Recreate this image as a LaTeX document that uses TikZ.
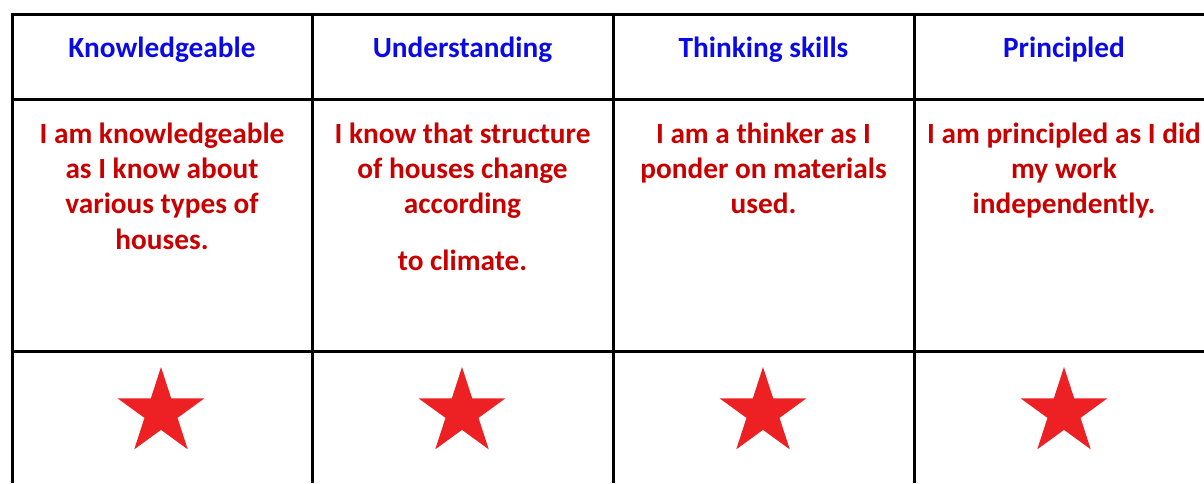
\documentclass[tikz,border=0pt]{standalone}
\usepackage{fontspec}
\setmainfont{Carlito}
\usetikzlibrary{shapes.geometric}
\definecolor{hdblue}{RGB}{10,10,230}
\definecolor{bodyred}{RGB}{200,0,0}
\definecolor{starred}{RGB}{237,32,36}
\begin{document}
\begin{tikzpicture}[x=1pt,y=-1pt,
  grid/.style={line width=3pt, black},
  head/.style={font=\fontsize{29.3}{35}\selectfont\bfseries, text=hdblue, anchor=base, inner sep=0pt},
  body/.style={font=\fontsize{29.3}{35}\selectfont\bfseries, text=bodyred, anchor=base, inner sep=0pt},
  mystar/.style={star, star points=5, star point ratio=2.618, minimum size=91pt, fill=starred, draw=none, inner sep=0pt}]
\useasboundingbox (0,0) rectangle (1204,483);
% grid
\draw[grid] (10.5,14) -- (1204,14);
\draw[grid] (10.5,99) -- (1204,99);
\draw[grid] (10.5,351) -- (1204,351);
\foreach \x in {12,312.5,613.5,914}{\draw[grid] (\x,12.5) -- (\x,483);}
% headers
\node[head] (h1) at (162,57) {Knowledgeable};
\node[head] (h2) at (462.5,57) {Understanding};
\node[head] (h3) at (763.5,57) {Thinking skills};
\node[head] (h4) at (1064,57) {Principled};
% column 1
\node[body] (a1) at (162,143) {I am knowledgeable};
\node[body] (a2) at (162,178) {as I know about};
\node[body] (a3) at (162,213.5) {various types of};
\node[body] (a4) at (162,249) {houses.};
% column 2
\node[body] (b1) at (462.5,143) {I know that structure};
\node[body] (b2) at (462.5,178) {of houses change};
\node[body] (b3) at (462.5,213.5) {according};
\node[body] (b4) at (462.5,270) {to climate.};
% column 3
\node[body] (c1) at (763.5,143) {I am a thinker as I};
\node[body] (c2) at (763.5,178) {ponder on materials};
\node[body] (c3) at (763.5,213.5) {used.};
% column 4
\node[body] (d1) at (1064,143) {I am principled as I did};
\node[body] (d2) at (1064,178) {my work};
\node[body] (d3) at (1064,213.5) {independently.};
% stars
\node[mystar] (s1) at (161,412.5) {};
\node[mystar] (s2) at (462,412.5) {};
\node[mystar] (s3) at (763,412.5) {};
\node[mystar] (s4) at (1064,412.5) {};
\end{tikzpicture}
\end{document}
